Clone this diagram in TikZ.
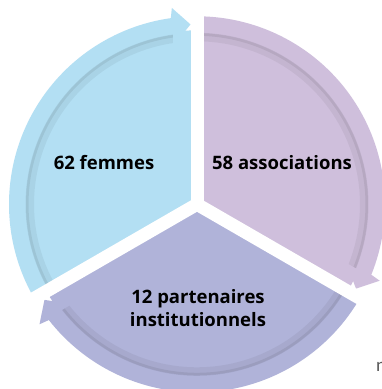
\documentclass[tikz,border=0pt]{standalone}
\usepackage{fontspec}
\setmainfont{Open Sans}
\newfontfamily\graytxt{Carlito}
\definecolor{cblue}{HTML}{B3DFF3}
\definecolor{cpurp}{HTML}{CFBFDC}
\definecolor{clav}{HTML}{B0B3D9}
\definecolor{cgray}{HTML}{595959}
\newcommand\cycseg[3]{%
  \pgfmathsetmacro\segea{#3+8}%
  \pgfmathsetmacro\segeb{#3+7.3}%
  \pgfmathsetmacro\segec{#3+2.07}%
  \pgfmathsetmacro\seged{#3+8.6}%
  \fill[#1] (0,0) -- (#2:174) arc[start angle=#2, end angle=#3, radius=174] -- cycle;
  \draw[black, opacity=.05, line width=8] (#2:167) arc[start angle=#2, end angle=\segea, radius=167];
  \draw[black, opacity=.07, line width=3] (#2:170) arc[start angle=#2, end angle=\segea, radius=170];
  \fill[#1] (#2:188) arc[start angle=#2, end angle=\segea, radius=188]
    -- (\segeb:198) -- (\segec:180) -- (\seged:160) -- (\segea:172)
    arc[start angle=\segea, end angle=#2, radius=172] -- cycle;
}
\begin{document}
\begin{tikzpicture}[x=1pt,y=1pt,
  lbl/.style={font=\bfseries\fontsize{18.5}{22}\selectfont, text=black, inner sep=0},
  gap/.style={white, line width=13}]
\useasboundingbox (0,0) rectangle (382,389);
\fill[white] (0,0) rectangle (382,389);
\begin{scope}[shift={(197,184.7)}]
  \cycseg{cblue}{210}{90}
  \cycseg{cpurp}{90}{-30}
  \cycseg{clav}{330}{210}
  \coordinate (c) at (0,0);
  \coordinate (g1) at (90:215);
  \coordinate (g2) at (210:215);
  \coordinate (g3) at (330:215);
  \draw[gap] (c) -- (g1);
  \draw[gap] (c) -- (g2);
  \draw[gap] (c) -- (g3);
\end{scope}
\node[lbl, anchor=base] (fem) at (104,219) {62 femmes};
\node[lbl, anchor=base] (asso) at (282,219) {58 associations};
\node[lbl, anchor=base] (part1) at (198,85) {12 partenaires};
\node[lbl, anchor=base] (part2) at (198,63) {institutionnels};
\node[anchor=base west, inner sep=0, text=cgray, font=\graytxt\fontsize{19}{22}\selectfont] (frag) at (376,17) {n};
\end{tikzpicture}
\end{document}
